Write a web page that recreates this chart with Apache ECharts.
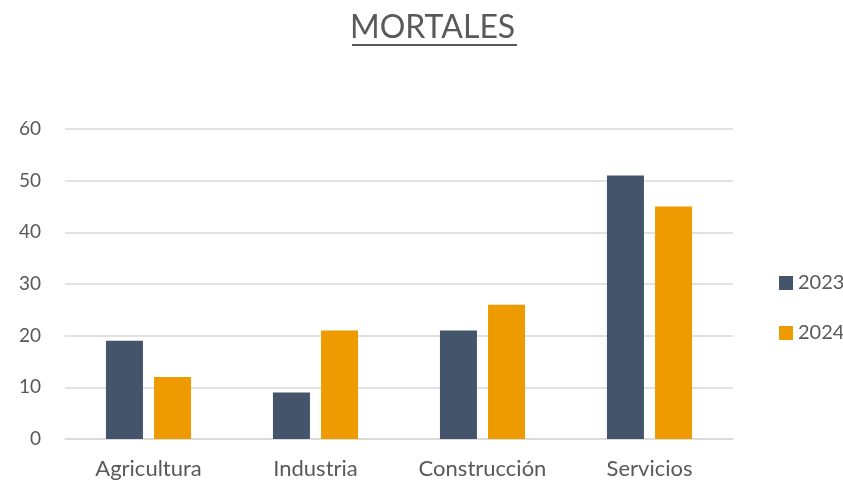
<!DOCTYPE html>
<html>
<head>
<meta charset="utf-8">
<script src="https://cdn.jsdelivr.net/npm/echarts@6/dist/echarts.min.js"></script>
<style>
  html, body { margin: 0; padding: 0; background: #fff; }
  #chart { width: 843px; height: 480px; }
</style>
</head>
<body>
<div id="chart"></div>
<script>
var categories = ['Agricultura', 'Industria', 'Construcción', 'Servicios'];
var years = ['2023', '2024'];
var values2023 = [19, 9, 21, 51];
var values2024 = [12, 21, 26, 45];
var yTicks = [0, 10, 20, 30, 40, 50, 60];

var font = 'Lato, "Open Sans", sans-serif';
var chart = echarts.init(document.getElementById('chart'));

var option = {
  animation: false,
  title: {
    text: 'MORTALES',
    left: 350,
    top: 12,
    padding: 0,
    textStyle: { fontFamily: font, fontWeight: 'normal', fontSize: 32, color: '#595959' }
  },
  // underline under the title
  graphic: [{
    type: 'rect',
    shape: { x: 352, y: 44, width: 165, height: 2 },
    style: { fill: '#595959' }
  }],
  legend: {
    orient: 'vertical',
    left: 774,
    top: 268,
    itemWidth: 14,
    itemHeight: 14,
    itemGap: 30,
    icon: 'rect',
    data: years,
    textStyle: { fontFamily: font, fontSize: 20, color: '#595959' }
  },
  grid: { left: 65, right: 110, top: 129, bottom: 40 },
  xAxis: {
    type: 'category',
    data: categories,
    axisTick: { show: false },
    axisLine: { lineStyle: { color: '#d9d9d9', width: 1.5 } },
    axisLabel: { fontFamily: font, fontSize: 22, color: '#595959', margin: 19 }
  },
  yAxis: {
    type: 'value',
    min: yTicks[0],
    max: yTicks[yTicks.length - 1],
    interval: 10,
    axisLine: { show: false },
    axisTick: { show: false },
    splitLine: { lineStyle: { color: '#d9d9d9', width: 1.5 } },
    axisLabel: { fontFamily: font, fontSize: 19, color: '#595959', margin: 24 }
  },
  series: [
    {
      name: years[0], type: 'bar', data: values2023,
      barWidth: 37, barGap: '30%',
      itemStyle: { color: '#44546A' }
    },
    {
      name: years[1], type: 'bar', data: values2024,
      barWidth: 37,
      itemStyle: { color: '#ED9B00' }
    }
  ]
};

chart.setOption(option);
</script>
</body>
</html>
